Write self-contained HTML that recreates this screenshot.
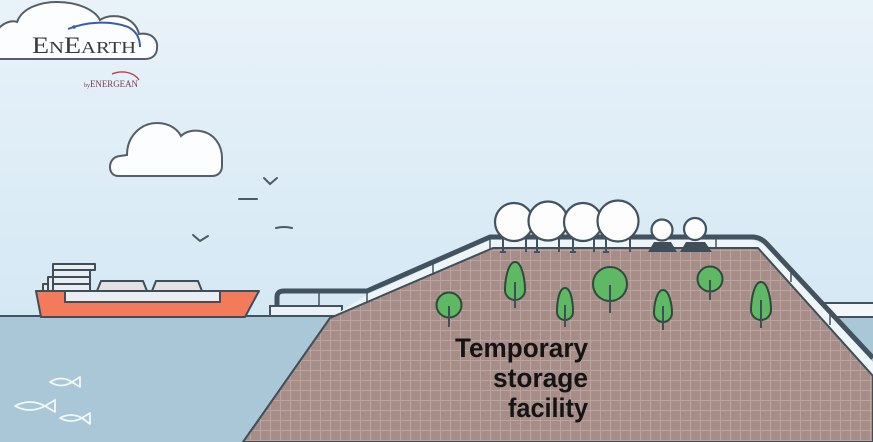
<!DOCTYPE html>
<html><head><meta charset="utf-8">
<style>
html,body{margin:0;padding:0;background:#e3eff7;}
svg{display:block;}
</style></head>
<body>
<svg width="873" height="442" viewBox="0 0 873 442" xmlns="http://www.w3.org/2000/svg">
<defs>
<linearGradient id="sky" x1="0" y1="0" x2="0" y2="1">
<stop offset="0" stop-color="#e9f2f9"/>
<stop offset="1" stop-color="#d4e8f4"/>
</linearGradient>
<pattern id="grid" width="10" height="10" patternUnits="userSpaceOnUse">
<rect width="10" height="10" fill="#a68d88"/>
<path d="M0 0.5H10M0.5 0V10" stroke="#b9a4a0" stroke-width="1"/>
</pattern>
</defs>

<!-- sky -->
<rect x="0" y="0" width="873" height="318" fill="url(#sky)"/>
<!-- water -->
<rect x="0" y="316" width="873" height="126" fill="#a9c7d6"/>
<line x1="0" y1="316" x2="340" y2="316" stroke="#42535f" stroke-width="2"/>

<!-- logo cloud -->
<path d="M-3,30 C4,22 12,20 17,22 C22,8 40,2 57,2 C78,2 95,10 100,20 C112,12 135,16 139,34 C152,32 158,40 157,48 C157,55 152,59 145,59 H-3 Z" fill="#fbfdfe" stroke="#555e66" stroke-width="2"/>
<path d="M68,29 C85,22 110,20 128,27 C136,31 140,38 140,47" fill="none" stroke="#3a5ba8" stroke-width="2"/>
<circle cx="74" cy="27" r="1.8" fill="#3a5ba8"/>
<path d="M112,74 C122,70 134,72 139,80" fill="none" stroke="#c0394a" stroke-width="1.4"/>
<text x="32" y="53" textLength="104" lengthAdjust="spacingAndGlyphs" font-family="'Liberation Serif',serif" fill="#3a3a3a"><tspan font-size="23">E</tspan><tspan font-size="17">N</tspan><tspan font-size="23">E</tspan><tspan font-size="17">ARTH</tspan></text>
<text x="84" y="87" textLength="54" lengthAdjust="spacingAndGlyphs" font-family="'Liberation Serif',serif" font-size="9" fill="#7a3a48"><tspan font-size="6">by</tspan>ENERGEAN</text>

<!-- cloud 2 -->
<path d="M118,176 C107,176 107,157 120,156 L127,155 C127,135 142,123 157,123 C170,123 178,130 181,136 C186,131 194,130 200,131 C214,133 222,145 222,158 L222,166 C222,172 218,176 212,176 Z" fill="#fbfdfe" stroke="#555e66" stroke-width="2"/>

<!-- birds -->
<g fill="none" stroke="#4a5a66" stroke-width="2" stroke-linecap="round">
<path d="M264,178 L270,184 L277,178"/>
<path d="M239,199 H257"/>
<path d="M276,228 Q284,226 292,228"/>
<path d="M193,235 L200,241 L208,236"/>
</g>

<!-- ship -->
<g stroke="#3f4e58" stroke-width="2" stroke-linejoin="round">
<rect x="53" y="264" width="42" height="6" fill="#e8eef1"/>
<rect x="53" y="270" width="37" height="21" fill="#e8eef1"/>
<line x1="53" y1="277" x2="90" y2="277"/>
<line x1="53" y1="284" x2="90" y2="284"/>
<rect x="48" y="277" width="5" height="14" fill="#e8eef1"/>
<rect x="43" y="284" width="5" height="7" fill="#e8eef1"/>
<path d="M97,291 L101,281 H143 L147,291 Z" fill="#e2e2e2"/>
<path d="M152,291 L156,281 H198 L202,291 Z" fill="#e2e2e2"/>
<path d="M36,291 H259 L245,317 H41 Z" fill="#f37b5b"/>
<rect x="65" y="291" width="155" height="11" fill="#e8eef1"/>
</g>

<!-- fish -->
<g fill="none" stroke="#f4f8fa" stroke-width="1.8" stroke-linejoin="round">
<path d="M50,382 Q61,375 72,382 Q61,389 50,382 Z M72,382 L80,377 L80,387 Z"/>
<path d="M15,406 Q30,398 45,406 Q30,414 15,406 Z M45,406 L55,400 L55,412 Z"/>
<path d="M60,418 Q71,412 82,418 Q71,424 60,418 Z M82,418 L90,413 L90,424 Z"/>
</g>

<!-- right platform -->
<rect x="800" y="303" width="75" height="14" fill="#f3f7f9" stroke="#42535f" stroke-width="2"/>
<!-- left platform -->
<rect x="270" y="306" width="72" height="10" fill="#eaf2f7" stroke="#42535f" stroke-width="2"/>
<line x1="319" y1="292" x2="319" y2="306" stroke="#42535f" stroke-width="1.5"/>

<!-- walkway band -->
<path d="M330,318 L367,295 L490,240 L752,240 L766,246 L873,362 L873,378 L758,248 L493,248 Z" fill="#eef5f9"/>

<!-- hill -->
<path d="M243,442 L330,318 L493,248 L758,248 L873,376 L873,442 Z" fill="url(#grid)" stroke="#3f4e58" stroke-width="2" stroke-linejoin="round"/>

<!-- pipe posts -->
<g stroke="#42535f" stroke-width="1.5">
<line x1="367" y1="291" x2="367" y2="302"/>
<line x1="433" y1="263" x2="433" y2="275"/>
<line x1="490" y1="237" x2="490" y2="250"/>
<line x1="716" y1="237" x2="716" y2="249"/>
<line x1="791" y1="270" x2="791" y2="282"/>
<line x1="830" y1="313" x2="830" y2="325"/>
</g>
<!-- pipe -->
<path d="M277,306 L277,297 Q277,291 284,291 L367,291 L490,237 L752,237 Q760,237 766,243 L873,358" fill="none" stroke="#42535f" stroke-width="5" stroke-linejoin="round"/>

<!-- tank legs -->
<g stroke="#42535f" stroke-width="2">
<line x1="503" y1="236" x2="503" y2="252"/><line x1="526" y1="236" x2="526" y2="252"/>
<line x1="537" y1="236" x2="537" y2="252"/><line x1="559" y1="236" x2="559" y2="252"/>
<line x1="573" y1="236" x2="573" y2="252"/><line x1="594" y1="236" x2="594" y2="252"/>
<line x1="606" y1="236" x2="606" y2="252"/><line x1="630" y1="236" x2="630" y2="252"/>
<line x1="500" y1="252" x2="506" y2="252"/><line x1="534" y1="252" x2="540" y2="252"/>
<line x1="570" y1="252" x2="576" y2="252"/><line x1="603" y1="252" x2="609" y2="252"/>
</g>
<!-- tanks -->
<g fill="#fdfdfd" stroke="#42535f" stroke-width="2.2">
<circle cx="514" cy="222" r="19"/>
<circle cx="548" cy="221" r="19.5"/>
<circle cx="583" cy="222" r="19"/>
<circle cx="618" cy="221" r="20.5"/>
<circle cx="662" cy="230" r="10.5"/>
<circle cx="695" cy="229" r="11"/>
</g>
<path d="M648,252 L654,242 H671 L677,252 Z" fill="#3f4e58"/>
<path d="M680,252 L686,242 H705 L712,252 Z" fill="#3f4e58"/>

<!-- trees -->
<g fill="#5fb863" stroke="#2f4a3c" stroke-width="2">
<path d="M515,262 C522,262 525,280 525,290 A10 10 0 0 1 505,290 C505,280 508,262 515,262 Z"/>
<path d="M565,288 C571,288 573,302 573,312 A8 8 0 0 1 557,312 C557,302 559,288 565,288 Z"/>
<path d="M663,290 C669,290 672,304 672,313 A9 9 0 0 1 654,313 C654,304 657,290 663,290 Z"/>
<path d="M761,282 C768,282 771,300 771,310 A10 10 0 0 1 751,310 C751,300 754,282 761,282 Z"/>
<circle cx="610" cy="284" r="17"/>
<circle cx="710" cy="279" r="12.5"/>
<circle cx="449" cy="305" r="12.5"/>
</g>
<g stroke="#3f4e58" stroke-width="2">
<line x1="515" y1="282" x2="515" y2="308"/>
<line x1="565" y1="305" x2="565" y2="327"/>
<line x1="663" y1="306" x2="663" y2="330"/>
<line x1="761" y1="300" x2="761" y2="328"/>
<line x1="610" y1="285" x2="610" y2="313"/>
<line x1="710" y1="280" x2="710" y2="300"/>
<line x1="449" y1="306" x2="449" y2="327"/>
</g>

<!-- label -->
<g font-family="'Liberation Sans',sans-serif" font-size="27" font-weight="bold" fill="#141414" text-anchor="end">
<text x="588" y="357" textLength="133" lengthAdjust="spacingAndGlyphs">Temporary</text>
<text x="588" y="387" textLength="95" lengthAdjust="spacingAndGlyphs">storage</text>
<text x="588" y="417" textLength="80" lengthAdjust="spacingAndGlyphs">facility</text>
</g>
</svg>
</body></html>
